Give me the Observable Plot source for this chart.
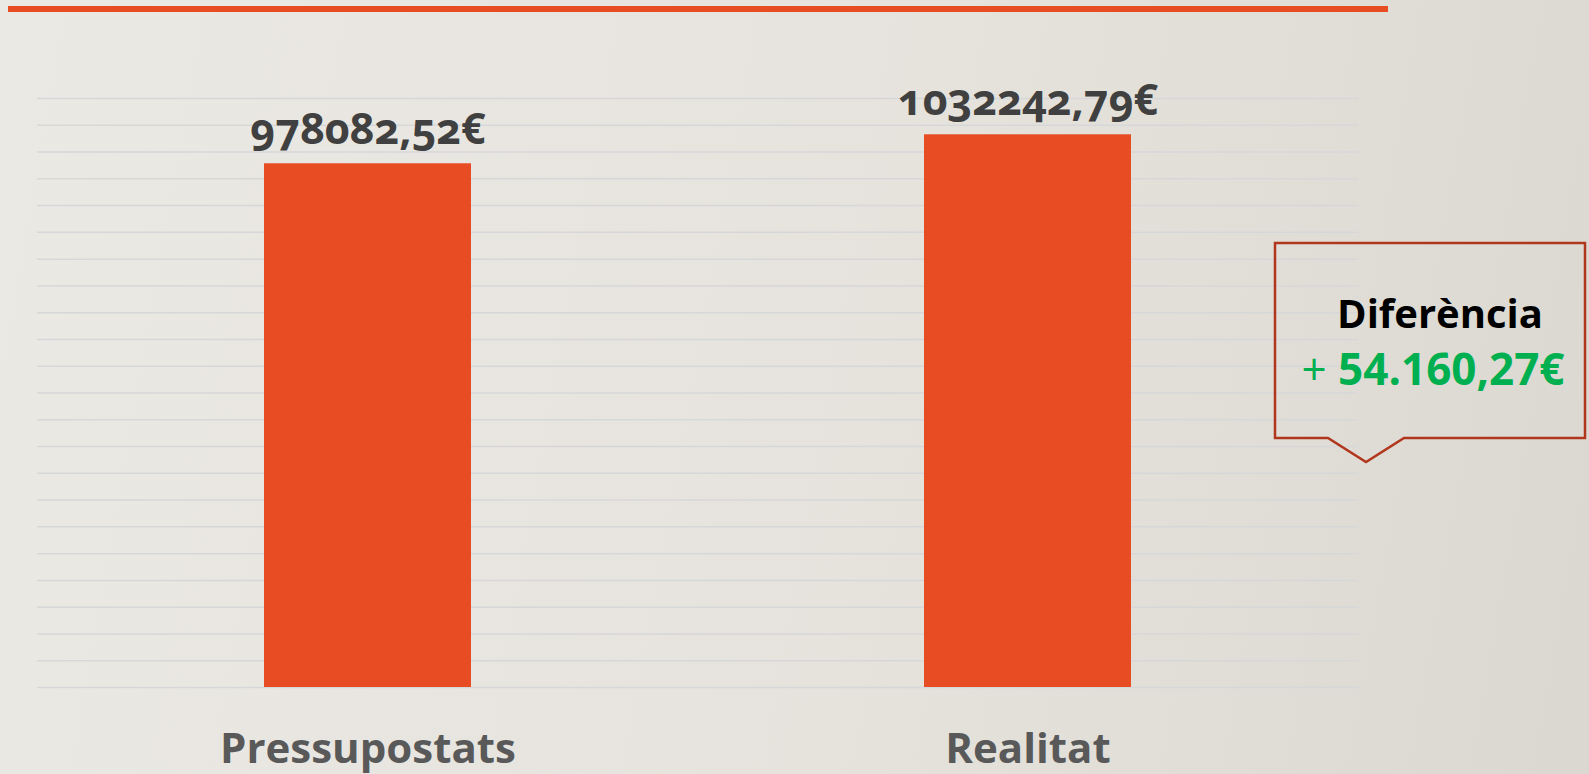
<!DOCTYPE html>
<html><head><meta charset="utf-8">
<script src="https://cdn.jsdelivr.net/npm/d3@7"></script>
<script src="https://cdn.jsdelivr.net/npm/@observablehq/plot@0.6"></script>
<style>
html,body{margin:0;padding:0;width:1589px;height:774px;overflow:hidden;}
body{background:linear-gradient(100deg,#ebe9e4 0%,#e6e3dd 55%,#dbd8d1 100%);font-family:"Open Sans",sans-serif;position:relative;}
#topline{position:absolute;left:8px;top:6px;width:1380px;height:6px;background:#e84c22;}
#chart{position:absolute;left:0;top:0;}
#callout{position:absolute;left:1273px;top:241px;}
</style>
</head><body>
<div id="topline"></div>
<div id="chart"></div>
<svg id="callout" width="316" height="226">
  <path d="M2,2 H312 V197 H131 L93,221 L55,197 H2 Z" fill="none" stroke="#b0361c" stroke-width="2.5" stroke-linejoin="miter"/>
  <text x="167" y="87" text-anchor="middle" font-family="Open Sans" font-weight="700" font-size="40" fill="#000">Diferència</text>
  <text x="160" y="144" text-anchor="middle" font-family="Open Sans" font-size="44" fill="#00b050"><tspan font-weight="400">+ </tspan><tspan font-weight="700">54.160,27€</tspan></text>
</svg>
<script>
const categories = ["Pressupostats", "Realitat"];
const values = [978082.52, 1032242.79];
const valueLabels = ["978082,52€", "1032242,79€"];
const gridValues = [0,50000,100000,150000,200000,250000,300000,350000,400000,450000,500000,550000,600000,650000,700000,750000,800000,850000,900000,950000,1000000,1050000,1100000];

const data = categories.map((c, i) => ({cat: c, value: values[i], label: valueLabels[i]}));

const chart = Plot.plot({
  width: 1589,
  height: 774,
  marginLeft: 37,
  marginRight: 231,
  marginTop: 98,
  marginBottom: 87,
  style: {background: "transparent", overflow: "visible", fontFamily: "Open Sans"},
  x: {domain: categories, paddingInner: 0.687, paddingOuter: 0.3435, label: null, axis: null},
  y: {domain: [0, 1100000], axis: null},
  marks: [
    Plot.ruleY(gridValues, {stroke: "#d6d7d9", strokeWidth: 1.5}),
    Plot.barY(data, {x: "cat", y: "value", fill: "#e84c22"}),
    Plot.text(data, {x: "cat", y: "value", text: "label", dy: -34, fontSize: 43, fontWeight: 700, fill: "#404040"}),
    Plot.axisX({tickSize: 0, tickPadding: 46, fontSize: 42, fontWeight: 700, fill: "#595959", label: null})
  ]
});
d3.select(chart).selectAll("text")
  .filter(function() { return this.textContent.includes("€"); })
  .style("font-variant-numeric", "oldstyle-nums")
  .style("font-feature-settings", '"onum" 1');
document.getElementById("chart").appendChild(chart);
</script>
</body></html>
